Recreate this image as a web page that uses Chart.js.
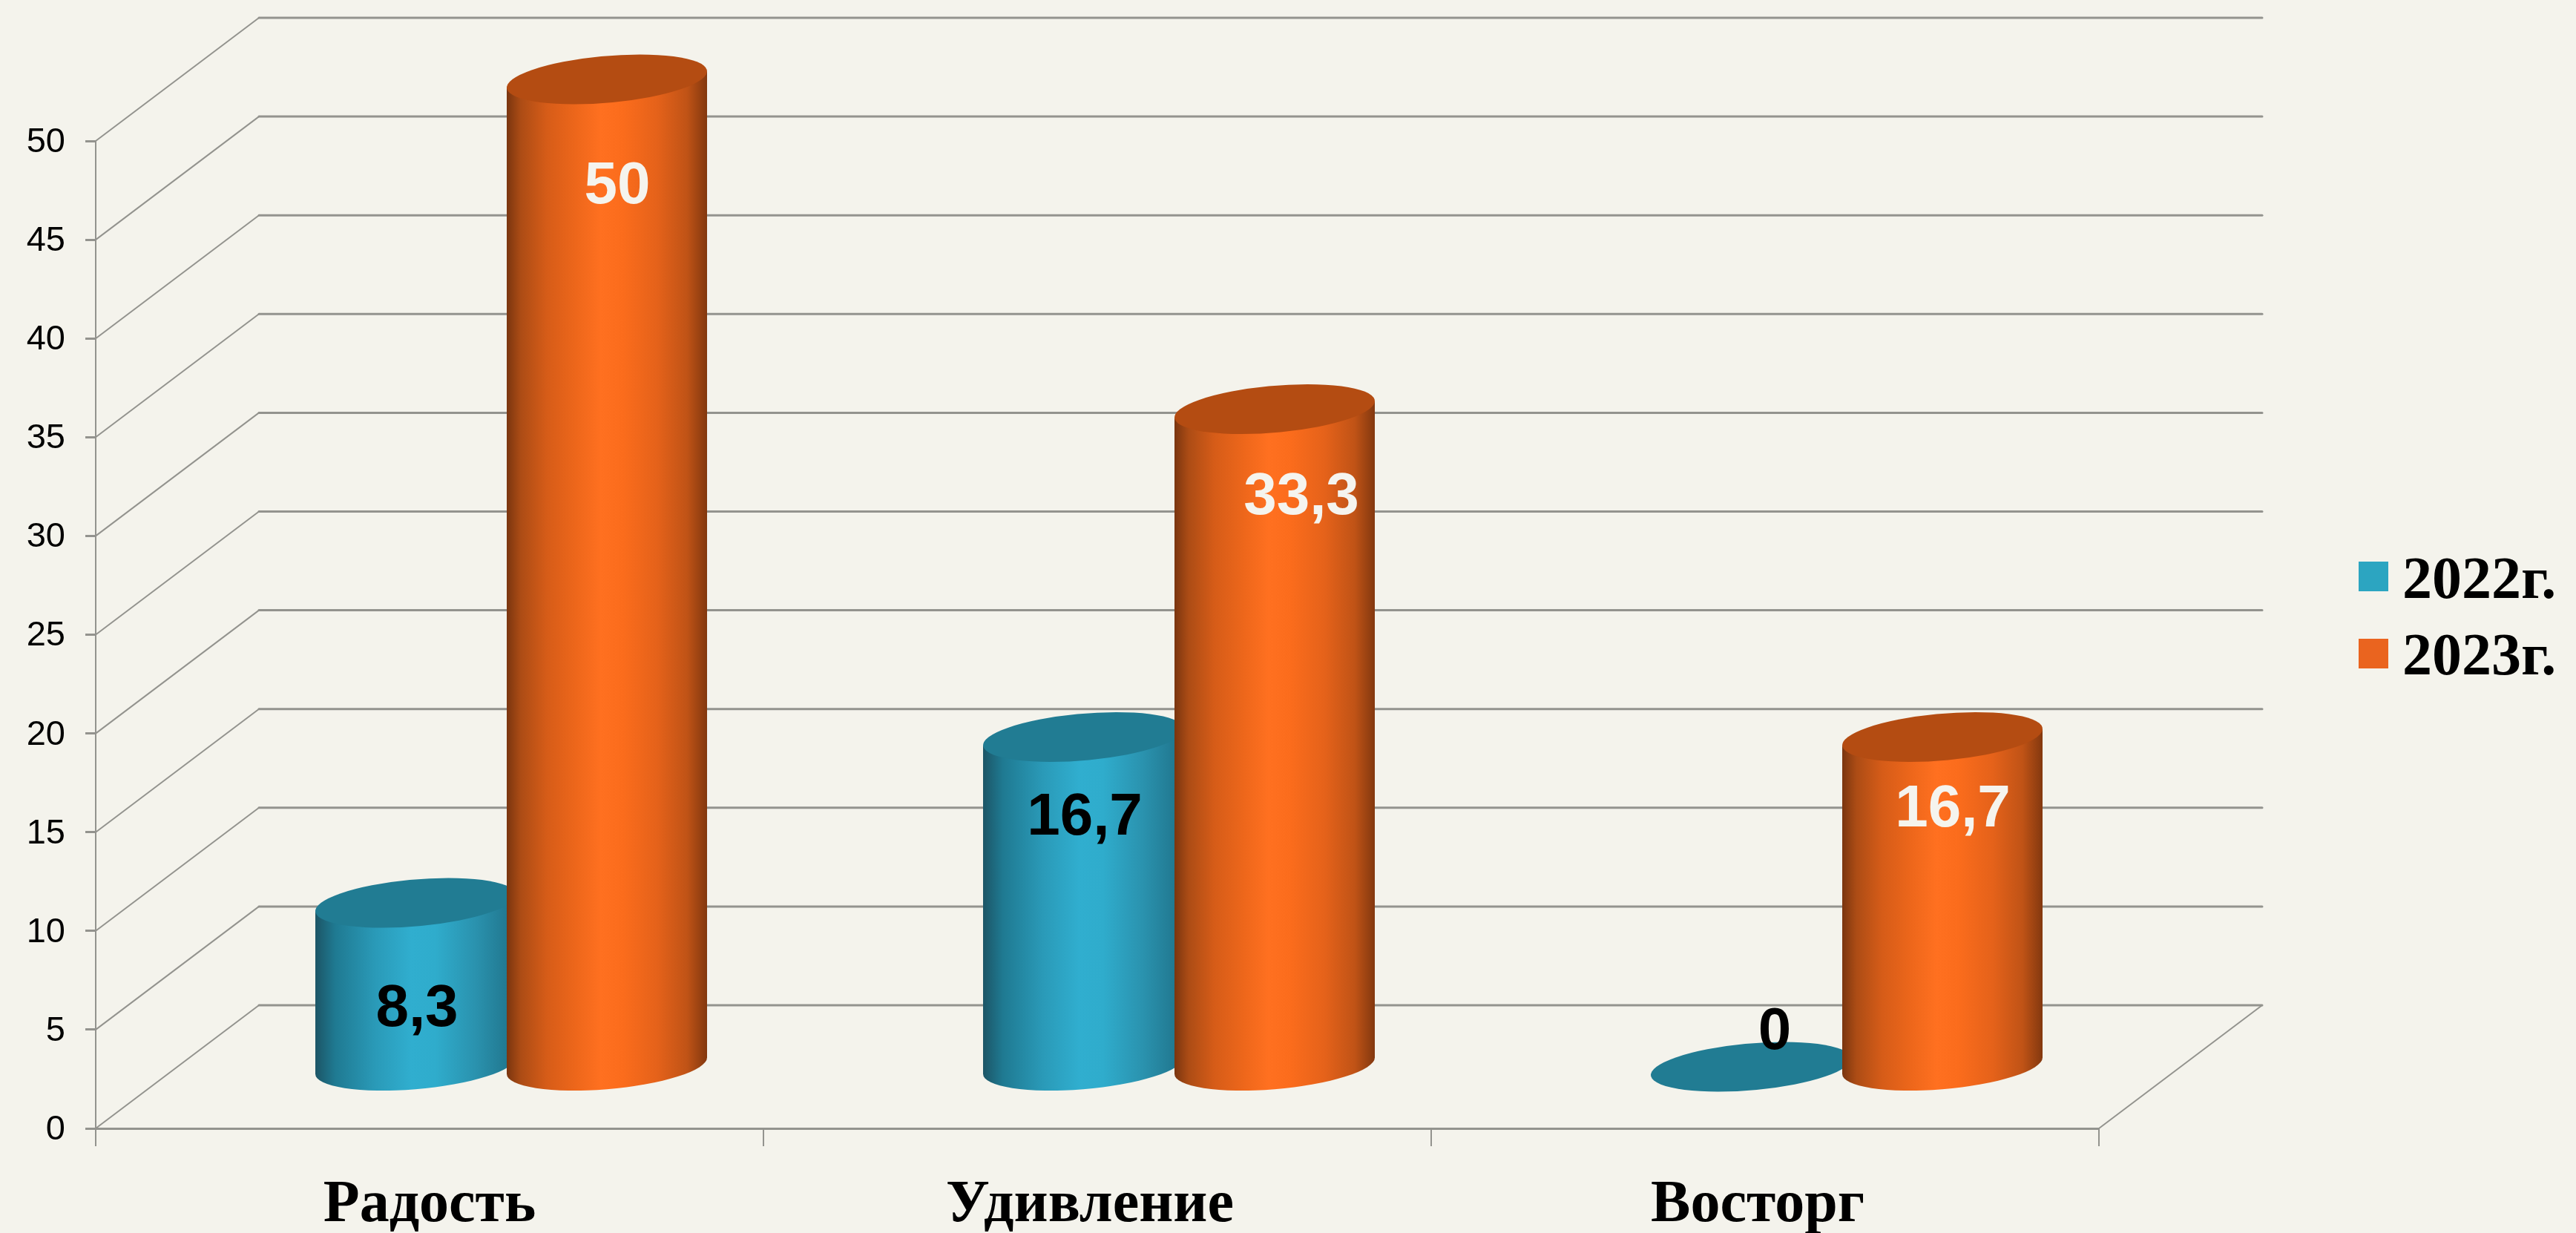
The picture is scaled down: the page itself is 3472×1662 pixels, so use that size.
<!DOCTYPE html>
<html>
<head>
<meta charset="utf-8">
<style>
    html, body { margin: 0; padding: 0; background: #f4f3ec; }
    canvas { display: block; }
</style>
<script src="https://cdn.jsdelivr.net/npm/chart.js@4"></script>
</head>
<body>
<canvas id="chart" width="3472" height="1662"></canvas>
<script>
const categories = ['Радость', 'Удивление', 'Восторг'];
const seriesNames = ['2022г.', '2023г.'];
const values2022 = [8.3, 16.7, 0];
const values2023 = [50, 33.3, 16.7];

// hand placed data labels, offset from the top of each cylinder
const labelShift2022 = [[2, 61], [2, 26], [32, -129]];
const labelShift2023 = [[14, 62], [36, 36], [14, 15]];

const depthX = 220;
const depthY = 166;
const gridColor = '#93938e';
const serifFont = '"Liberation Serif", "Times New Roman", serif';
const sansFont = '"Liberation Sans", Arial, sans-serif';

const looks = [
    { swatch: '#2ca5c1', cap: '#217c93', text: '#000000', shift: labelShift2022,
      stops: [[0, '#1c5566'], [0.1, '#1f7a92'], [0.3, '#2a9ab8'], [0.48, '#30aecf'], [0.6, '#2facCC'], [0.8, '#2a92ae'], [1, '#1f7289']] },
    { swatch: '#ea641f', cap: '#b44c12', text: '#f5f4ee', shift: labelShift2023,
      stops: [[0, '#7a350f'], [0.07, '#ac4c15'], [0.2, '#d65c18'], [0.35, '#ee671b'], [0.47, '#ff7020'], [0.58, '#fb6c1c'], [0.75, '#e5621a'], [0.9, '#c05316'], [1, '#83380f']] }
];

function drawCylinder(ctx, bar, look) {
    const half = bar.width / 2;
    const radiusY = 33.5;
    const skewX = radiusY * depthX / depthY;
    const radiusX = Math.sqrt(half * half - skewX * skewX);
    const turn = Math.atan2(skewX, radiusX);
    const lift = radiusY * Math.sin(turn);

    const cx = bar.x + depthX / 2;
    const topY = bar.y - depthY / 2;
    const baseY = bar.base - depthY / 2;

    const ellipsePath = function(centerY, from, to) {
        ctx.save();
        ctx.transform(radiusX, 0, skewX, -radiusY, cx, centerY);
        ctx.arc(0, 0, 1, from, to, false);
        ctx.restore();
    };

    if (baseY - topY > 1) {
        const gradient = ctx.createLinearGradient(cx - half, 0, cx + half, 0);
        look.stops.forEach(s => gradient.addColorStop(s[0], s[1]));
        ctx.beginPath();
        ellipsePath(baseY, turn + Math.PI, turn + 2 * Math.PI);
        ctx.lineTo(cx + half, topY - lift);
        ctx.lineTo(cx - half, topY + lift);
        ctx.closePath();
        ctx.fillStyle = gradient;
        ctx.fill();
    }

    ctx.beginPath();
    ellipsePath(topY, 0, 2 * Math.PI);
    ctx.closePath();
    ctx.fillStyle = look.cap;
    ctx.fill();
}

const walls = {
    id: 'walls',
    beforeDatasetsDraw(chart) {
        const ctx = chart.ctx;
        const x = chart.scales.x;
        const y = chart.scales.y;
        ctx.save();
        ctx.strokeStyle = gridColor;
        ctx.lineCap = 'round';
        y.ticks.forEach(tick => {
            const py = y.getPixelForValue(tick.value);
            ctx.lineWidth = 2;
            ctx.beginPath();
            ctx.moveTo(x.left, py);
            ctx.lineTo(x.left + depthX, py - depthY);
            ctx.stroke();
            ctx.lineWidth = 3;
            ctx.beginPath();
            ctx.moveTo(x.left + depthX, py - depthY);
            ctx.lineTo(x.right + depthX, py - depthY);
            ctx.stroke();
        });
        ctx.lineWidth = 2;
        ctx.beginPath();
        ctx.moveTo(x.right, y.bottom);
        ctx.lineTo(x.right + depthX, y.bottom - depthY);
        ctx.stroke();
        ctx.restore();
    },
    afterDatasetsDraw(chart) {
        const ctx = chart.ctx;
        ctx.save();
        chart.data.datasets.forEach((dataset, i) => {
            chart.getDatasetMeta(i).data.forEach(bar => drawCylinder(ctx, bar, looks[i]));
        });

        // value labels go on top of every cylinder
        ctx.font = 'bold 80px ' + sansFont;
        ctx.textAlign = 'center';
        ctx.textBaseline = 'middle';
        chart.data.datasets.forEach((dataset, i) => {
            chart.getDatasetMeta(i).data.forEach((bar, j) => {
                const shift = looks[i].shift[j];
                ctx.fillStyle = looks[i].text;
                ctx.fillText(String(dataset.data[j]).replace('.', ','), bar.x + depthX / 2 + shift[0], bar.y + shift[1]);
            });
        });

        // legend
        ctx.font = 'bold 80px ' + serifFont;
        ctx.textAlign = 'left';
        ctx.textBaseline = 'alphabetic';
        chart.data.datasets.forEach((dataset, i) => {
            ctx.fillStyle = looks[i].swatch;
            ctx.fillRect(3179, 757 + i * 104, 40, 40);
            ctx.fillStyle = '#000000';
            ctx.fillText(dataset.label, 3238, 806 + i * 103);
        });
        ctx.restore();
    }
};

new Chart(document.getElementById('chart'), {
    type: 'bar',
    data: {
        labels: categories,
        datasets: [
            { label: seriesNames[0], data: values2022, backgroundColor: 'rgba(0,0,0,0)' },
            { label: seriesNames[1], data: values2023, backgroundColor: 'rgba(0,0,0,0)' }
        ]
    },
    plugins: [walls],
    options: {
        responsive: false,
        animation: false,
        devicePixelRatio: 1,
        categoryPercentage: 516 / 900,
        barPercentage: 270 / 258,
        layout: { padding: { top: 190, right: 643, bottom: 0, left: 0 } },
        plugins: { legend: { display: false }, tooltip: { enabled: false } },
        scales: {
            x: {
                afterFit(scale) { scale.height = 141; },
                grid: { drawOnChartArea: false, color: gridColor, tickLength: 24, lineWidth: 2 },
                border: { color: gridColor, width: 3 },
                ticks: {
                    color: '#000000',
                    padding: 32,
                    maxRotation: 0,
                    // the last two labels sit a little left of their category centre
                    callback: (value, index) => categories[index] + (index > 0 ? ' ' : ''),
                    font: { family: serifFont, size: 80, weight: 'bold' }
                }
            },
            y: {
                min: 0,
                max: 50,
                afterFit(scale) { scale.width = 129; },
                grid: { drawOnChartArea: false, color: gridColor, tickLength: 14, lineWidth: 3 },
                border: { color: gridColor, width: 2 },
                ticks: {
                    stepSize: 5,
                    color: '#000000',
                    padding: 27,
                    labelOffset: 2,
                    font: { family: sansFont, size: 47 }
                }
            }
        }
    }
});
</script>
</body>
</html>
